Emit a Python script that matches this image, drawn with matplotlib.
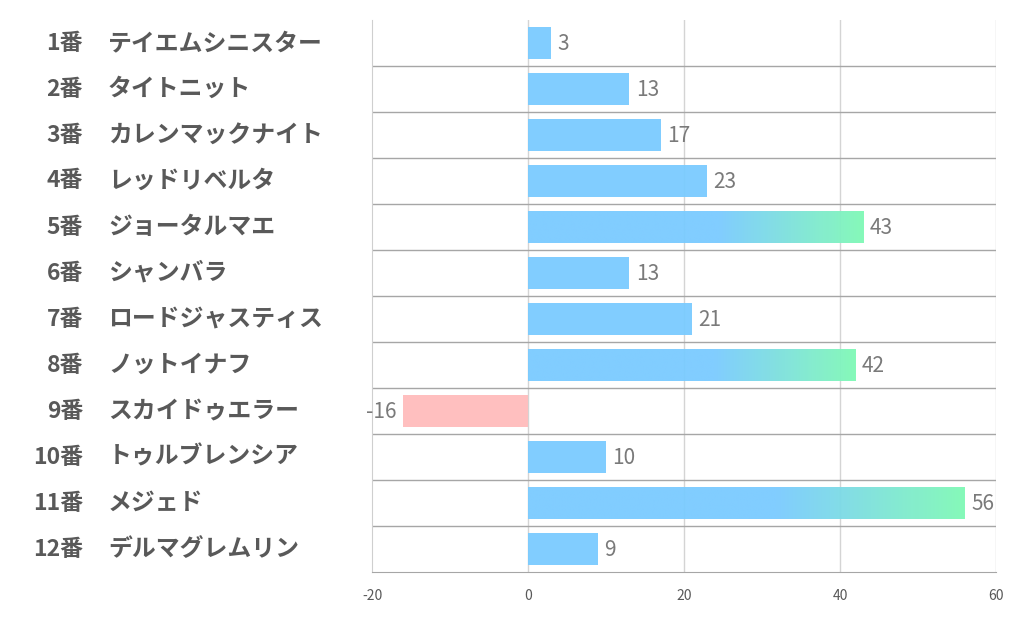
import numpy as np
from matplotlib import pyplot as plt
from matplotlib.colors import LinearSegmentedColormap

plt.rcParams['font.family'] = ['Noto Sans CJK JP', 'DejaVu Sans']

numbers = ['1番', '2番', '3番', '4番', '5番', '6番', '7番', '8番', '9番', '10番', '11番', '12番']
names = ['テイエムシニスター', 'タイトニット', 'カレンマックナイト', 'レッドリベルタ', 'ジョータルマエ',
         'シャンバラ', 'ロードジャスティス', 'ノットイナフ', 'スカイドゥエラー', 'トゥルブレンシア',
         'メジェド', 'デルマグレムリン']
values = [3, 13, 17, 23, 43, 13, 21, 42, -16, 10, 56, 9]
xticks = [-20, 0, 20, 40, 60]

blue = '#7acbff'
green = '#80f9b6'
pink = '#ffbcbc'
grad = LinearSegmentedColormap.from_list('g', [blue, green])

fig = plt.figure(figsize=(10.22, 6.26), dpi=100)
ax = fig.add_axes([0.364, 0.0863, 0.6106, 0.8817])

n = len(values)
bh = 0.68
for i, v in enumerate(values):
    if v < 0:
        c = pink
    else:
        c = blue
    bars = ax.barh(i, v, height=bh, color=c, alpha=0.95, zorder=2)
    if v >= 40:
        p = bars[0]
        s = 0.57 * v
        t = np.clip((np.linspace(0, v, 300) - s) / (v - s), 0, 1)
        im = ax.imshow(t[np.newaxis, :], cmap=grad, aspect='auto', alpha=0.95,
                       extent=[0, v, i + bh / 2, i - bh / 2], zorder=2.1, vmin=0, vmax=1)
        im.set_clip_path(p)
        p.set_alpha(0)
    if v >= 0:
        ax.text(v + 0.8, i + 0.03, str(v), va='center', ha='left', fontsize=15, color='#7a7a7a')
    else:
        ax.text(v - 0.8, i + 0.03, str(v), va='center', ha='right', fontsize=15, color='#7a7a7a')

ax.set_xlim(-20, 60)
ax.set_ylim(n - 0.5, -0.5)
ax.set_xticks(xticks)
ax.set_xticklabels([str(t) for t in xticks], fontsize=10, color='#595959')
ax.set_yticks([])
ax.tick_params(axis='x', length=0, pad=12)

for xv in xticks[1:]:
    ax.axvline(xv, color='#d4d4d4', lw=1, zorder=1)
for k in range(1, n):
    ax.axhline(k - 0.5, color='#a6a6a6', lw=1, zorder=1)

for side in ['top', 'right']:
    ax.spines[side].set_visible(False)
ax.spines['left'].set_color('#cfcfcf')
ax.spines['bottom'].set_color('#a6a6a6')

# 左側のラベル
for i in range(n):
    yy = 1 - (20 + 46 * i + 23) / 626
    fig.text(83 / 1022, yy, numbers[i], ha='right', va='center', fontsize=16.5,
             fontweight='bold', color='#595959')
    fig.text(108 / 1022, yy, names[i], ha='left', va='center', fontsize=17.2,
             fontweight='bold', color='#595959')

plt.savefig('out.png', dpi=100)
plt.close()
